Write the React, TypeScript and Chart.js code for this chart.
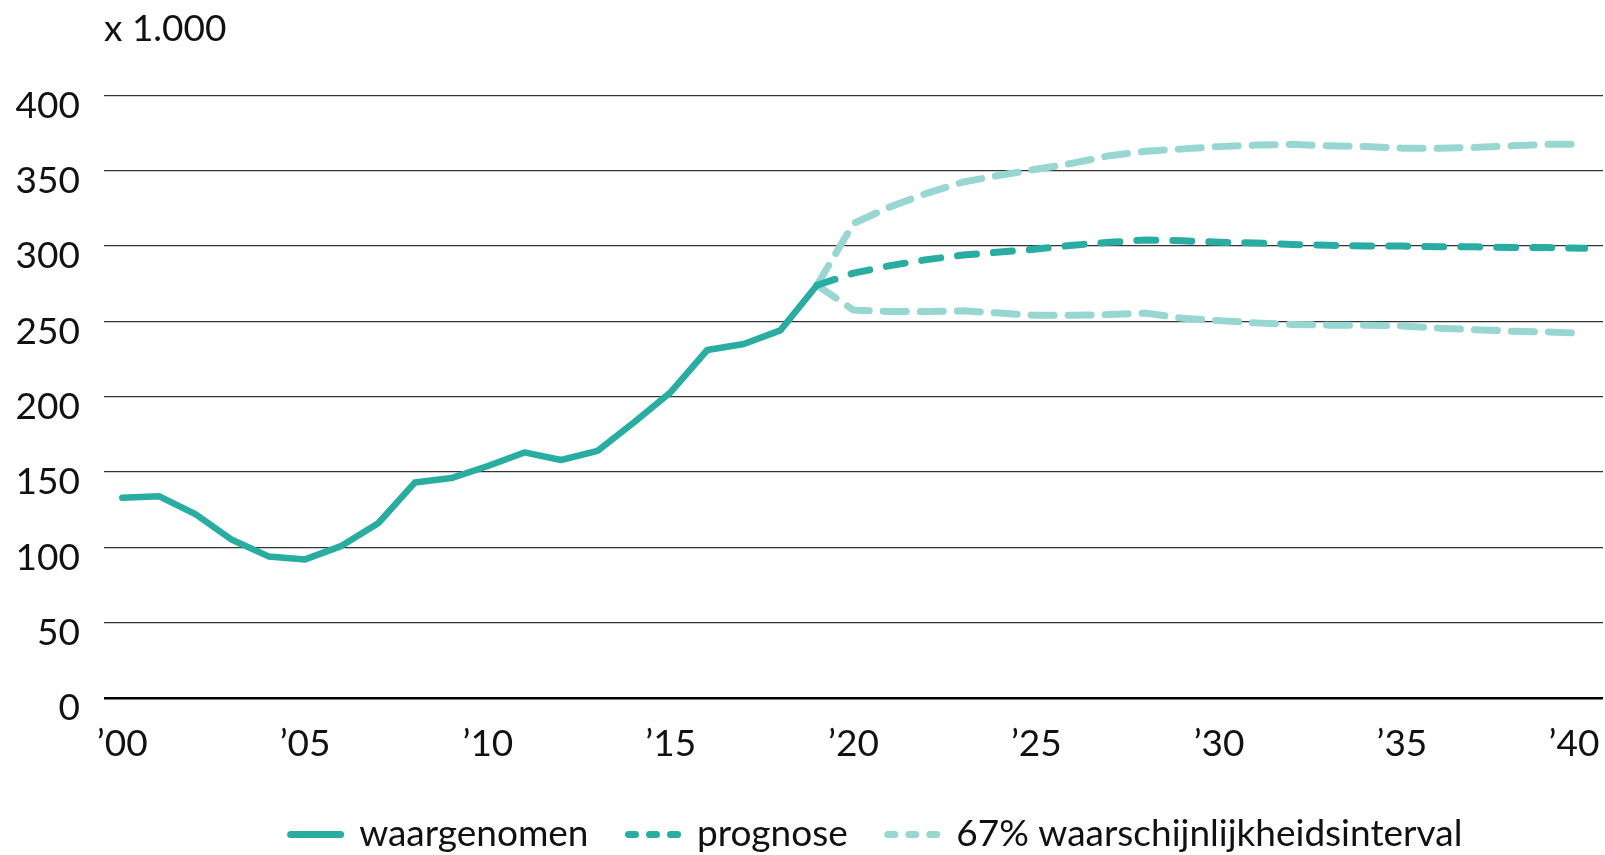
import { useEffect, useRef } from 'react';
import { Chart, registerables } from 'chart.js';

Chart.register(...registerables);

// Categories (years)
const years = [
  2000, 2001, 2002, 2003, 2004, 2005, 2006, 2007, 2008, 2009,
  2010, 2011, 2012, 2013, 2014, 2015, 2016, 2017, 2018, 2019,
  2020, 2021, 2022, 2023, 2024, 2025, 2026, 2027, 2028, 2029,
  2030, 2031, 2032, 2033, 2034, 2035, 2036, 2037, 2038, 2039, 2040,
];

// waargenomen, 2000-2019 (x 1.000)
const observed = [133, 134, 122, 105, 94, 92, 101, 116, 143, 146, 154, 163, 158, 164, 183, 203, 231, 235, 244, 274];

// prognose, 2019-2040
const prognosis = [274, 282, 287, 291, 294, 296, 298, 300.5, 302.5, 304, 303.5, 302.5, 302, 301, 300.5, 300, 300, 299.5, 299.5, 299, 299, 298.5];

// 67% waarschijnlijkheidsinterval, 2019-2040
const upperBound = [274, 315, 326, 335, 342.5, 347, 351, 355, 360, 363, 364.5, 366, 367, 367.5, 366.5, 366, 365, 365, 365.5, 366.5, 367.5, 367.5];
const lowerBound = [274, 257.5, 256.5, 256.5, 257, 255.5, 254, 254, 254.5, 255.5, 252, 250.5, 249, 248, 247.5, 247.5, 247, 245.5, 244.5, 243.5, 243, 242];

const yTicks = [0, 50, 100, 150, 200, 250, 300, 350, 400];

const labels = {
  observed: 'waargenomen',
  prognosis: 'prognose',
  interval: '67% waarschijnlijkheidsinterval',
  unit: 'x 1.000',
};

const DARK = '#29ada2';
const LIGHT = '#97d6d1';
const TEXT = '#111111';
const FONT_FAMILY = 'Lato';
const FONT_SIZE = 37;

const LEG_DX = 75;
const LEG_DY = 8;

function place(startYear: number, vals: number[]) {
  const lead = years.indexOf(startYear);
  const out: (number | null)[] = years.map(() => null);
  vals.forEach((v, i) => {
    out[lead + i] = v;
  });
  return out;
}

const legendShift = {
  id: 'legendShift',
  afterLayout(chart: any) {
    const lg = chart.legend;
    if (!lg) return;
    lg.left += LEG_DX;
    lg.right += LEG_DX;
    lg.top += LEG_DY;
    lg.bottom += LEG_DY;
  },
};

export default function App() {
  const ref = useRef<HTMLCanvasElement>(null);

  useEffect(() => {
    const canvas = ref.current;
    if (!canvas) return;
    const font = { family: FONT_FAMILY, size: FONT_SIZE, weight: 'normal' as const };

    const chart = new Chart(canvas, {
      type: 'line',
      data: {
        labels: years.map(String),
        datasets: [
          {
            label: labels.observed,
            data: place(2000, observed),
            borderColor: DARK,
            backgroundColor: DARK,
            borderWidth: 6.5,
            borderCapStyle: 'round',
            borderJoinStyle: 'round',
            pointRadius: 0,
            tension: 0,
          },
          {
            label: labels.prognosis,
            data: place(2019, prognosis),
            borderColor: DARK,
            backgroundColor: DARK,
            borderWidth: 7,
            borderDash: [19, 17],
            borderCapStyle: 'round',
            borderJoinStyle: 'round',
            pointRadius: 0,
            tension: 0,
          },
          {
            label: labels.interval,
            data: place(2019, upperBound),
            borderColor: LIGHT,
            backgroundColor: LIGHT,
            borderWidth: 7,
            borderDash: [23, 14],
            borderCapStyle: 'round',
            borderJoinStyle: 'round',
            pointRadius: 0,
            tension: 0,
          },
          {
            label: labels.interval + ' (onder)',
            data: place(2019, lowerBound),
            borderColor: LIGHT,
            backgroundColor: LIGHT,
            borderWidth: 7,
            borderDash: [23, 14],
            borderCapStyle: 'round',
            borderJoinStyle: 'round',
            pointRadius: 0,
            tension: 0,
          },
        ],
      },
      options: {
        responsive: false,
        animation: false,
        devicePixelRatio: 1,
        layout: { padding: { left: 0, right: 2, top: 0, bottom: 0 } },
        plugins: {
          tooltip: { enabled: false },
          title: {
            display: true,
            text: labels.unit,
            align: 'start',
            fullSize: false,
            color: TEXT,
            font,
            padding: { top: 7, bottom: 44 },
          },
          legend: {
            display: true,
            position: 'bottom',
            align: 'center',
            labels: {
              usePointStyle: true,
              pointStyleWidth: 50,
              padding: 40,
              color: TEXT,
              font,
              generateLabels: (ch: any) =>
                ch.data.datasets.slice(0, 3).map((ds: any, i: number) => ({
                  text: ds.label,
                  fillStyle: ds.borderColor,
                  strokeStyle: ds.borderColor,
                  fontColor: TEXT,
                  lineWidth: 7,
                  lineDash: i === 0 ? [] : [7, 14],
                  lineDashOffset: 0,
                  lineCap: 'round',
                  lineJoin: 'round',
                  pointStyle: 'line',
                  rotation: 0,
                  hidden: false,
                  datasetIndex: i,
                })),
            },
          },
        },
        scales: {
          x: {
            type: 'category',
            offset: true,
            grid: { display: false, drawTicks: false },
            border: { display: false },
            ticks: {
              autoSkip: false,
              maxRotation: 0,
              minRotation: 0,
              padding: 24,
              color: TEXT,
              font,
              callback: (_v: any, index: number) => {
                const y = years[index];
                if (y % 5 !== 0) return '';
                const s = '\u2019' + String(y).slice(2);
                return index === years.length - 1 ? s + '\u2007' : s;
              },
            },
            afterFit: (s: any) => {
              s.paddingRight = 0;
              s.height = 70;
            },
          },
          y: {
            min: 0,
            max: 400,
            afterBuildTicks: (s: any) => {
              s.ticks = yTicks.map((v) => ({ value: v }));
            },
            grid: {
              drawTicks: false,
              color: (c: any) => (c.tick && c.tick.value === 0 ? '#000000' : '#333333'),
              lineWidth: (c: any) => (c.tick && c.tick.value === 0 ? 2.5 : 1.2),
            },
            border: { display: false },
            ticks: {
              padding: 24,
              labelOffset: 10.5,
              color: TEXT,
              font,
              callback: (v: any) => String(v),
            },
            afterFit: (s: any) => {
              s.width = 104;
            },
          },
        },
      },
      plugins: [legendShift],
    } as any);

    return () => chart.destroy();
  }, []);

  return (
    <div style={{ position: 'absolute', left: 0, top: 0, width: 1605, height: 855, background: '#ffffff' }}>
      <canvas ref={ref} width={1605} height={855} style={{ display: 'block' }} />
    </div>
  );
}
